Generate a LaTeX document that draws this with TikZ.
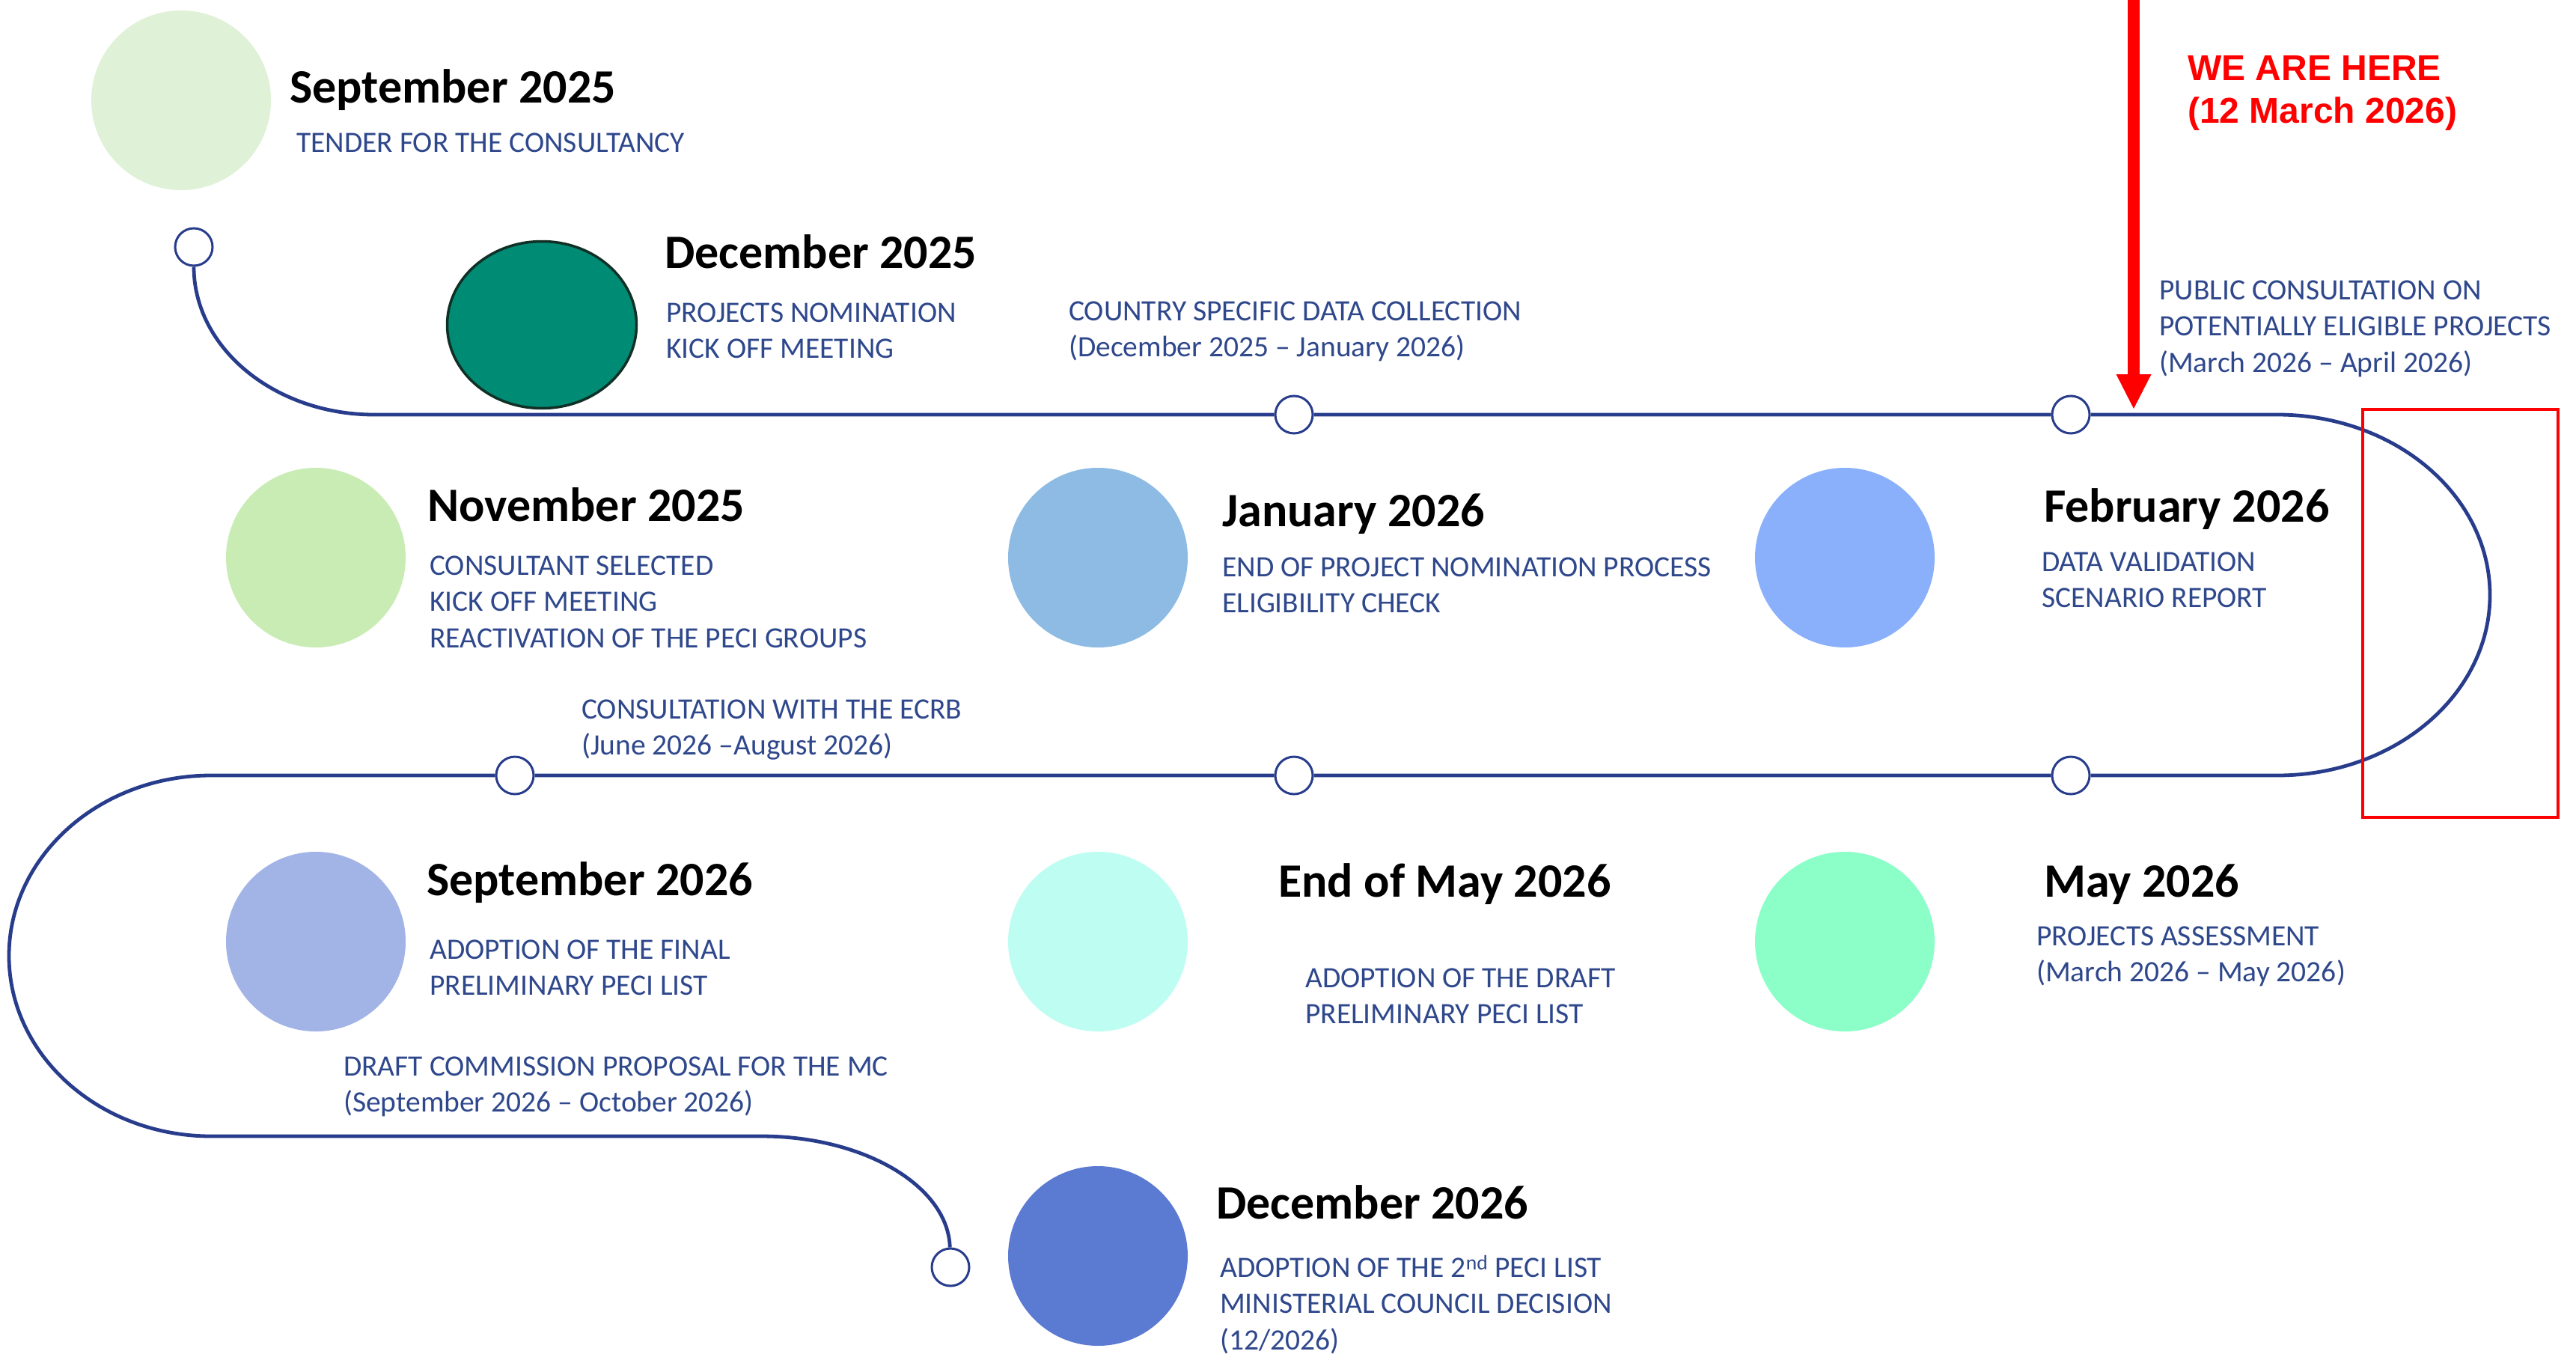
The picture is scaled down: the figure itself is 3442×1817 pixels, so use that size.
\documentclass[tikz,border=0pt]{standalone}
\usepackage{fontspec}
\setmainfont{Carlito}
\newfontfamily\arialfont{Liberation Sans}
\usetikzlibrary{shapes.geometric}
\definecolor{tline}{RGB}{40,60,140}
\definecolor{tblue}{RGB}{47,72,140}
\definecolor{cA}{RGB}{223,241,214}
\definecolor{cB}{RGB}{0,139,116}
\definecolor{cBo}{RGB}{16,48,38}
\definecolor{cC}{RGB}{201,236,181}
\definecolor{cD}{RGB}{141,187,227}
\definecolor{cE}{RGB}{138,176,251}
\definecolor{cF}{RGB}{162,179,230}
\definecolor{cG}{RGB}{189,253,242}
\definecolor{cH}{RGB}{140,255,201}
\definecolor{cI}{RGB}{91,122,209}
\definecolor{wred}{RGB}{255,0,0}
\newcommand\txtlines[1]{\vtop{\baselineskip=48.5pt\lineskiplimit=-100pt #1}}
\newcommand\redlines[1]{\vtop{\baselineskip=57pt\lineskiplimit=-100pt #1}}
\tikzset{
  bigdot/.style={circle, minimum size=240pt, inner sep=0pt, draw=none},
  dot/.style={circle, minimum size=50pt, inner sep=0pt, draw=tline, line width=3pt, fill=white},
  tl/.style={draw=tline, line width=4.8pt},
  ttl/.style={anchor=base west, inner sep=0pt, font=\fontsize{64}{70}\selectfont\bfseries, text=black},
  dsc/.style={anchor=base west, inner sep=0pt, font=\fontsize{39.5}{48.5}\selectfont, text=tblue},
  here/.style={anchor=base west, inner sep=0pt, font=\arialfont\bfseries\fontsize{48}{57}\selectfont, text=wred},
}
\begin{document}
\begin{tikzpicture}[x=1pt,y=-1pt]
\useasboundingbox (0,0) rectangle (3442,1817);
\fill[white] (0,0) rectangle (3442,1817);

% big circles
\node[bigdot, fill=cA] (k1) at (242,134) {};
\node[ellipse, minimum width=253pt, minimum height=223pt, inner sep=0pt, fill=cB, draw=cBo, line width=3.5pt] (k2) at (724,434) {};
\node[bigdot, fill=cC] (k3) at (422,745) {};
\node[bigdot, fill=cD] (k4) at (1467,745) {};
\node[bigdot, fill=cE] (k5) at (2465,745) {};
\node[bigdot, fill=cF] (k6) at (422,1258) {};
\node[bigdot, fill=cG] (k7) at (1467,1258) {};
\node[bigdot, fill=cH] (k8) at (2465,1258) {};
\node[bigdot, fill=cI] (k9) at (1467,1678) {};

% path corner coordinates
\coordinate (c1) at (500,554);
\coordinate (c2) at (3043,554);
\coordinate (c3) at (3327,795);
\coordinate (c4) at (3043,1036);
\coordinate (c5) at (282,1036);
\coordinate (c6) at (12,1277);
\coordinate (c7) at (282,1518);
\coordinate (c8) at (1017,1518);

% milestone dots
\node[dot] (s0) at (259,330) {};
\node[dot] (p1) at (1729,554) {};
\node[dot] (p2) at (2767,554) {};
\node[dot] (q3) at (2767,1036) {};
\node[dot] (q2) at (1729,1036) {};
\node[dot] (q1) at (688,1036) {};
\node[dot] (e0) at (1270,1693) {};

% timeline
\draw[tl] (s0) .. controls (259,465) and (367,554) .. (c1) -- (p1) -- (p2) -- (c2)
  .. controls (3200,554) and (3327,662) .. (c3)
  .. controls (3327,928) and (3200,1036) .. (c4) -- (q3) -- (q2) -- (q1) -- (c5)
  .. controls (133,1036) and (12,1144) .. (c6)
  .. controls (12,1410) and (133,1518) .. (c7) -- (c8)
  .. controls (1155,1518) and (1267,1585) .. (e0);

% titles
\node[ttl] (t1) at (387,138) {September 2025};
\node[ttl] (t2) at (888,358) {December 2025};
\node[ttl] (t3) at (571,696) {November 2025};
\node[ttl] (t4) at (1633,703) {January 2026};
\node[ttl] (t5) at (2731,697) {February 2026};
\node[ttl] (t6) at (570,1196) {September 2026};
\node[ttl] (t7) at (1708,1198) {End of May 2026};
\node[ttl] (t8) at (2731,1198) {May 2026};
\node[ttl] (t9) at (1625,1628) {December 2026};

% descriptions
\node[dsc] (d1) at (396,203) {TENDER FOR THE CONSULTANCY};
\node[dsc] (d2) at (890,430) {\txtlines{\hbox{PROJECTS NOMINATION}\hbox{KICK OFF MEETING}}};
\node[dsc] (d3) at (1428,428) {\txtlines{\hbox{COUNTRY SPECIFIC DATA COLLECTION}\hbox{(December 2025 – January 2026)}}};
\node[dsc] (d4) at (574,768) {\txtlines{\hbox{CONSULTANT SELECTED}\hbox{KICK OFF MEETING}\hbox{REACTIVATION OF THE PECI GROUPS}}};
\node[dsc] (d5) at (1633,770) {\txtlines{\hbox{END OF PROJECT NOMINATION PROCESS}\hbox{ELIGIBILITY CHECK}}};
\node[dsc] (d6) at (2728,763) {\txtlines{\hbox{DATA VALIDATION}\hbox{SCENARIO REPORT}}};
\node[dsc] (d7) at (2885,400) {\txtlines{\hbox{PUBLIC CONSULTATION ON}\hbox{POTENTIALLY ELIGIBLE PROJECTS}\hbox{(March 2026 – April 2026)}}};
\node[dsc] (d8) at (777,960) {\txtlines{\hbox{CONSULTATION WITH THE ECRB}\hbox{(June 2026 –August 2026)}}};
\node[dsc] (d9) at (574,1281) {\txtlines{\hbox{ADOPTION OF THE FINAL}\hbox{PRELIMINARY PECI LIST}}};
\node[dsc] (d10) at (459,1437) {\txtlines{\hbox{DRAFT COMMISSION PROPOSAL FOR THE MC}\hbox{(September 2026 – October 2026)}}};
\node[dsc] (d11) at (1744,1319) {\txtlines{\hbox{ADOPTION OF THE DRAFT}\hbox{PRELIMINARY PECI LIST}}};
\node[dsc] (d12) at (2721,1263) {\txtlines{\hbox{PROJECTS ASSESSMENT}\hbox{(March 2026 – May 2026)}}};
\node[dsc] (d13) at (1630,1706) {\txtlines{\hbox{ADOPTION OF THE 2\textsuperscript{nd} PECI LIST}\hbox{MINISTERIAL COUNCIL DECISION}\hbox{(12/2026)}}};

% we are here
\node[here] (wh) at (2923,108) {\redlines{\hbox{WE ARE HERE}\hbox{(12 March 2026)}}};
\coordinate (a0) at (2851,-5);
\coordinate (a1) at (2851,500);
\coordinate (a2) at (2851,546);
\fill[wred] ([xshift=-8pt]a0) rectangle ([xshift=8pt]a1);
\fill[wred] ([xshift=-23.5pt]a1) -- ([xshift=23.5pt]a1) -- (a2) -- cycle;
\node[draw=wred, line width=4pt, inner sep=0pt, minimum width=261pt, minimum height=545pt] (box) at (3287.5,819.5) {};
\end{tikzpicture}
\end{document}
